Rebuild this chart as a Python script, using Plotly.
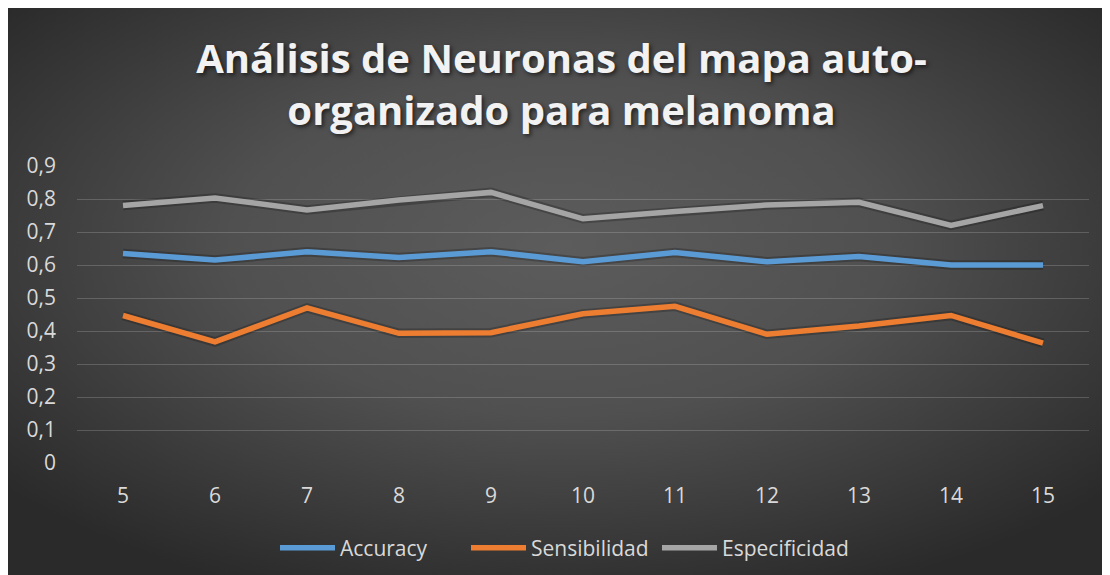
import base64
import plotly.graph_objects as go

neurons = [5, 6, 7, 8, 9, 10, 11, 12, 13, 14, 15]
accuracy = [0.635, 0.615, 0.640, 0.623, 0.640, 0.610, 0.638, 0.610, 0.626, 0.600, 0.600]
sensibilidad = [0.447, 0.367, 0.470, 0.393, 0.395, 0.452, 0.475, 0.390, 0.415, 0.447, 0.363]
especificidad = [0.780, 0.803, 0.767, 0.797, 0.820, 0.740, 0.762, 0.782, 0.790, 0.720, 0.780]

series = [
    ("Accuracy", accuracy, "#5b9bd5"),
    ("Sensibilidad", sensibilidad, "#ed7d31"),
    ("Especificidad", especificidad, "#a5a5a5"),
]

# The page body has an 8px margin, so the figure starts at (8, 8) in the window.
W, H = 1110, 575
ML, MR, MT, MB = 69, 29, 158, 120
PW, PH = W - ML - MR, H - MT - MB

svg = (
    '<svg xmlns="http://www.w3.org/2000/svg" width="1102" height="567" viewBox="0 0 1102 567" preserveAspectRatio="none">'
    '<defs><radialGradient id="g" cx="50%" cy="42%" r="66%" gradientUnits="objectBoundingBox">'
    '<stop offset="0" stop-color="#5c5c5c"/>'
    '<stop offset="0.45" stop-color="#505050"/>'
    '<stop offset="1" stop-color="#2a2a2a"/>'
    '</radialGradient></defs>'
    '<rect x="0" y="0" width="1102" height="567" fill="url(#g)"/></svg>'
)
bg_src = "data:image/svg+xml;base64," + base64.b64encode(svg.encode()).decode()

fig = go.Figure()

for name, vals, color in series:
    fig.add_trace(go.Scatter(
        x=neurons, y=vals, mode="lines", showlegend=False, hoverinfo="skip",
        line=dict(color="rgba(0,0,0,0.22)", width=9.5),
    ))

for name, vals, color in series:
    fig.add_trace(go.Scatter(
        x=neurons, y=vals, mode="lines", name=name,
        line=dict(color=color, width=5.5),
    ))

fig.add_layout_image(
    source=bg_src, xref="paper", yref="paper",
    x=-ML / PW, y=(PH + MT) / PH,
    sizex=1102 / PW, sizey=567 / PH,
    xanchor="left", yanchor="top", sizing="stretch", layer="below",
)

fig.update_layout(
    width=W, height=H,
    margin=dict(l=ML, r=MR, t=MT, b=MB),
    paper_bgcolor="#2c2c2c",
    plot_bgcolor="rgba(0,0,0,0)",
    separators=", ",
    title=dict(
        text="Análisis de Neuronas del mapa auto-<br>organizado para melanoma",
        x=553.5 / W, xanchor="center",
        y=1 - 65 / H, yanchor="middle",
        font=dict(family="Open Sans", size=40, color="#f2f2f2", weight=700,
                  shadow="2px 2px 4px rgba(0,0,0,0.6)"),
    ),
    xaxis=dict(
        range=[4.5, 15.5], tickmode="array", tickvals=neurons,
        showgrid=False, zeroline=False, showline=False, ticks="",
        ticklabelstandoff=18,
        tickfont=dict(family="Open Sans", size=21, color="#d9d9d9"),
    ),
    yaxis=dict(
        range=[0, 0.9], dtick=0.1, tick0=0, tickformat=".1~f",
        showgrid=True, gridcolor="rgba(217,217,217,0.22)", gridwidth=1.3,
        zeroline=False, showline=False, ticks="",
        ticklabelstandoff=20,
        tickfont=dict(family="Open Sans", size=21, color="#d9d9d9"),
    ),
    legend=dict(
        orientation="h", x=(553.5 - ML) / PW, xanchor="center",
        y=(PH + MT - 540) / PH, yanchor="middle",
        font=dict(family="Open Sans", size=21, color="#d9d9d9"),
        bgcolor="rgba(0,0,0,0)", itemwidth=55,
        entrywidth=121, entrywidthmode="pixels",
    ),
)

fig.write_html("out.html")
